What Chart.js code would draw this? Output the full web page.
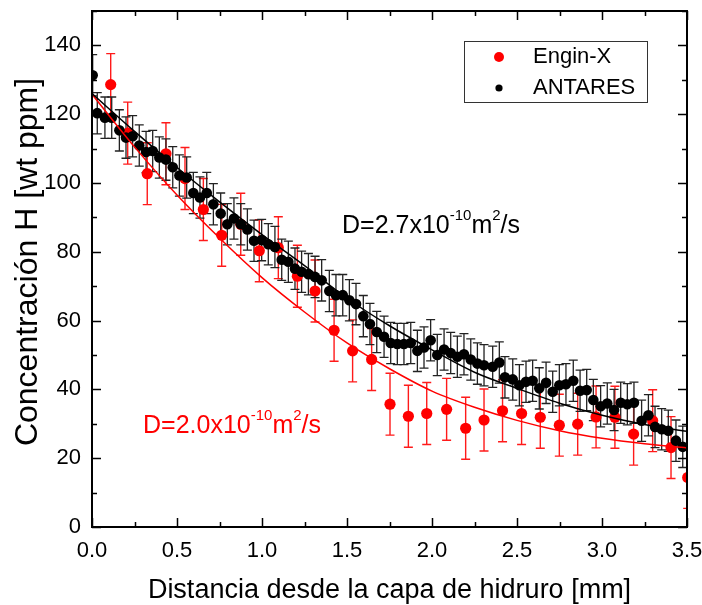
<!DOCTYPE html>
<html>
<head>
<meta charset="utf-8">
<script src="https://cdn.jsdelivr.net/npm/chart.js@4.4.1/dist/chart.umd.min.js"></script>
<style>
  html, body { margin: 0; padding: 0; background: #fff; }
</style>
</head>
<body>
<canvas id="chart" width="702" height="605"></canvas>
<script>
const FONT = "'Liberation Sans', Arial, Helvetica, sans-serif";

// Engin-X (neutron) profile
const enginX = [0.110, 0.210, 0.325, 0.435, 0.547, 0.655, 0.763, 0.875, 0.984, 1.096,
  1.208, 1.312, 1.424, 1.533, 1.645, 1.753, 1.861, 1.969, 2.086, 2.198,
  2.306, 2.415, 2.527, 2.637, 2.749, 2.857, 2.965, 3.076, 3.186, 3.298, 3.406, 3.504];
const enginY = [128.6, 114.5, 102.7, 108.5, 101.3, 92.3, 84.8, 88.0, 80.3, 81.2,
  72.9, 68.6, 57.2, 51.2, 48.7, 35.7, 32.2, 33.0, 34.2, 28.7,
  31.1, 33.8, 33.0, 31.9, 29.6, 29.9, 32.0, 31.9, 27.0, 30.9, 23.1, 14.4];
const enginErr = 9;

// ANTARES profile
const antaresX = [0.004, 0.031, 0.076, 0.116, 0.161, 0.200, 0.239, 0.278, 0.318, 0.357,
  0.396, 0.435, 0.475, 0.514, 0.557, 0.596, 0.635, 0.675, 0.714, 0.757,
  0.796, 0.835, 0.875, 0.914, 0.953, 0.998, 1.037, 1.076, 1.116, 1.155,
  1.194, 1.233, 1.273, 1.312, 1.351, 1.396, 1.435, 1.475, 1.514, 1.553,
  1.596, 1.635, 1.675, 1.718, 1.757, 1.796, 1.835, 1.875, 1.914, 1.953,
  1.992, 2.031, 2.071, 2.110, 2.149, 2.188, 2.228, 2.267, 2.306, 2.357,
  2.396, 2.429, 2.475, 2.514, 2.553, 2.592, 2.631, 2.671, 2.710, 2.749,
  2.788, 2.831, 2.871, 2.910, 2.949, 2.992, 3.031, 3.071, 3.110, 3.149,
  3.188, 3.233, 3.273, 3.312, 3.351, 3.390, 3.435, 3.475];
const antaresY = [131.3, 120.3, 119.0, 119.0, 115.3, 113.2, 113.6, 110.9, 109.0, 109.3,
  107.4, 106.8, 104.6, 102.2, 101.6, 97.1, 95.8, 97.1, 93.8, 91.1,
  88.0, 89.7, 88.0, 86.5, 83.2, 83.4, 82.2, 81.4, 77.7, 77.1,
  75.1, 74.2, 73.5, 72.7, 71.7, 68.6, 67.4, 67.4, 65.9, 64.8,
  61.3, 59.0, 56.7, 55.3, 53.5, 53.2, 53.2, 53.5, 51.2, 52.2,
  54.3, 50.0, 51.6, 50.6, 49.5, 50.2, 48.7, 47.5, 47.0, 46.6,
  47.8, 43.5, 42.9, 41.2, 42.2, 42.5, 40.3, 41.9, 39.3, 41.2,
  41.5, 42.5, 39.6, 39.8, 36.9, 35.1, 35.9, 34.0, 36.1, 35.7,
  36.1, 30.9, 32.5, 29.1, 28.4, 28.0, 25.1, 23.3];
const antaresErr = 6;

// fitted diffusion curves
const fitX = [0, 0.25, 0.5, 0.75, 1.0, 1.25, 1.5, 1.75, 2.0, 2.25, 2.5, 2.75, 3.0, 3.25, 3.5];
const fitRed = [125.8, 110.5, 96.5, 84.0, 72.5, 62.5, 53.5, 46.0, 39.5, 34.8, 31.0, 28.0, 25.8, 24.2, 23.0];
const fitBlack = [126.0, 115.0, 104.5, 94.5, 85.0, 76.0, 66.5, 58.5, 51.5, 45.0, 40.3, 36.0, 32.5, 29.8, 27.8];

const xTicks = [0, 0.5, 1.0, 1.5, 2.0, 2.5, 3.0, 3.5];
const yTicks = [0, 20, 40, 60, 80, 100, 120, 140];

const pts = (xs, ys) => xs.map((x, i) => ({ x: x, y: ys[i] }));

// error bars behind the markers
const errorBars = {
  id: "errorBars",
  beforeDatasetsDraw(chart) {
    const { ctx, chartArea, scales } = chart;
    const sets = [
      { xs: enginX, ys: enginY, err: enginErr, color: "#ff1a1a", w: 1.4 },
      { xs: antaresX, ys: antaresY, err: antaresErr, color: "#222", w: 1.3 },
    ];
    ctx.save();
    ctx.beginPath();
    ctx.rect(chartArea.left, chartArea.top, chartArea.width, chartArea.height);
    ctx.clip();
    sets.forEach((s) => {
      ctx.strokeStyle = s.color;
      ctx.lineWidth = s.w;
      s.xs.forEach((x, i) => {
        const px = scales.x.getPixelForValue(x);
        const top = scales.y.getPixelForValue(s.ys[i] + s.err);
        const bot = scales.y.getPixelForValue(s.ys[i] - s.err);
        ctx.beginPath();
        ctx.moveTo(px, top); ctx.lineTo(px, bot);
        ctx.moveTo(px - 4.5, top); ctx.lineTo(px + 4.5, top);
        ctx.moveTo(px - 4.5, bot); ctx.lineTo(px + 4.5, bot);
        ctx.stroke();
      });
    });
    ctx.restore();
  },
};

// frame, inward ticks, y title, legend and the D labels
const decorations = {
  id: "decorations",
  afterDraw(chart) {
    const { ctx, chartArea: a, scales } = chart;
    const xs = scales.x, ys = scales.y;
    ctx.save();
    ctx.strokeStyle = "#000";
    ctx.lineWidth = 1.5;
    for (let v = 0; v <= 3.5001; v += 0.25) {
      const px = Math.round(xs.getPixelForValue(v)) + 0.5;
      const len = Math.abs(v / 0.5 - Math.round(v / 0.5)) < 1e-6 ? 9 : 5;
      ctx.beginPath();
      ctx.moveTo(px, a.bottom); ctx.lineTo(px, a.bottom - len);
      ctx.moveTo(px, a.top); ctx.lineTo(px, a.top + len);
      ctx.stroke();
    }
    for (let v = 0; v <= 150; v += 10) {
      const py = Math.round(ys.getPixelForValue(v)) + 0.5;
      const len = v % 20 === 0 ? 9 : 5;
      ctx.beginPath();
      ctx.moveTo(a.left, py); ctx.lineTo(a.left + len, py);
      ctx.moveTo(a.right, py); ctx.lineTo(a.right - len, py);
      ctx.stroke();
    }
    ctx.lineWidth = 2;
    ctx.strokeRect(a.left, a.top, a.right - a.left, a.bottom - a.top);

    // y axis title
    ctx.save();
    ctx.translate(37, 262);
    ctx.rotate(-Math.PI / 2);
    ctx.fillStyle = "#000";
    ctx.font = "32px " + FONT;
    ctx.textAlign = "center";
    ctx.textBaseline = "alphabetic";
    ctx.fillText("Concentración H [wt ppm]", 0, 0);
    ctx.restore();

    // legend
    ctx.fillStyle = "#fff";
    ctx.fillRect(464.5, 41.5, 183, 61);
    ctx.lineWidth = 1;
    ctx.strokeStyle = "#333";
    ctx.strokeRect(464.5, 41.5, 183, 61);
    ctx.fillStyle = "#ff0000";
    ctx.beginPath(); ctx.arc(499, 57, 5, 0, Math.PI * 2); ctx.fill();
    ctx.fillStyle = "#000";
    ctx.beginPath(); ctx.arc(499, 88, 3.6, 0, Math.PI * 2); ctx.fill();
    ctx.font = "22px " + FONT;
    ctx.textBaseline = "middle";
    ctx.fillText("Engin-X", 533, 57);
    ctx.fillText("ANTARES", 533, 88);

    // D labels with superscripts
    const label = (x, y, color, coef) => {
      const parts = [
        ["D=" + coef + "x10", 0], ["-10", 1], ["m", 0], ["2", 1], ["/s", 0],
      ];
      ctx.fillStyle = color;
      ctx.textBaseline = "alphabetic";
      let cx = x;
      parts.forEach(([t, sup]) => {
        ctx.font = (sup ? "15px " : "25px ") + FONT;
        ctx.fillText(t, cx, sup ? y - 13 : y);
        cx += ctx.measureText(t).width;
      });
    };
    label(342, 233, "#000", "2.7");
    label(143, 432.5, "#ff0000", "2.0");
    ctx.restore();
  },
};

new Chart(document.getElementById("chart"), {
  type: "scatter",
  data: {
    datasets: [
      {
        label: "ANTARES",
        data: pts(antaresX, antaresY),
        backgroundColor: "#000",
        borderWidth: 0,
        pointRadius: 5.3,
      },
      {
        label: "Engin-X",
        data: pts(enginX, enginY),
        backgroundColor: "#ff0000",
        borderWidth: 0,
        pointRadius: 5.6,
      },
      {
        label: "fit ANTARES",
        type: "line",
        data: pts(fitX, fitBlack),
        borderColor: "#000",
        borderWidth: 1.5,
        pointRadius: 0,
        cubicInterpolationMode: "monotone",
        order: -1,
      },
      {
        label: "fit Engin-X",
        type: "line",
        data: pts(fitX, fitRed),
        borderColor: "#ff0000",
        borderWidth: 1.5,
        pointRadius: 0,
        cubicInterpolationMode: "monotone",
        order: -1,
      },
    ],
  },
  options: {
    responsive: false,
    animation: false,
    layout: { padding: { left: 0, right: 15, top: 11, bottom: 0 } },
    plugins: { legend: { display: false }, tooltip: { enabled: false } },
    scales: {
      x: {
        type: "linear",
        min: 0,
        max: 3.5,
        afterBuildTicks: (s) => { s.ticks = xTicks.map((v) => ({ value: v })); },
        afterFit: (s) => {
          s.height = 78;
          s.paddingLeft = 0; s.paddingRight = 0; s.paddingTop = 0; s.paddingBottom = 0;
        },
        grid: { display: false, drawTicks: false, tickLength: 0 },
        border: { display: false },
        ticks: {
          color: "#000",
          font: { family: FONT, size: 22 },
          padding: 11,
          maxRotation: 0,
          autoSkip: false,
          callback: (v) => Number(v).toFixed(1),
        },
        title: {
          display: true,
          text: "Distancia desde la capa de hidruro [mm]",
          color: "#000",
          font: { family: FONT, size: 27, lineHeight: 1 },
          padding: { top: 0, bottom: 0.5 },
        },
      },
      y: {
        type: "linear",
        min: 0,
        max: 150,
        afterBuildTicks: (s) => { s.ticks = yTicks.map((v) => ({ value: v })); },
        afterFit: (s) => {
          s.width = 92;
          s.paddingLeft = 0; s.paddingRight = 0; s.paddingTop = 0; s.paddingBottom = 0;
        },
        grid: { display: false, drawTicks: false, tickLength: 0 },
        border: { display: false },
        ticks: {
          color: "#000",
          font: { family: FONT, size: 22 },
          padding: 11,
          autoSkip: false,
        },
        title: { display: false },
      },
    },
  },
  plugins: [errorBars, decorations],
});
</script>
</body>
</html>
